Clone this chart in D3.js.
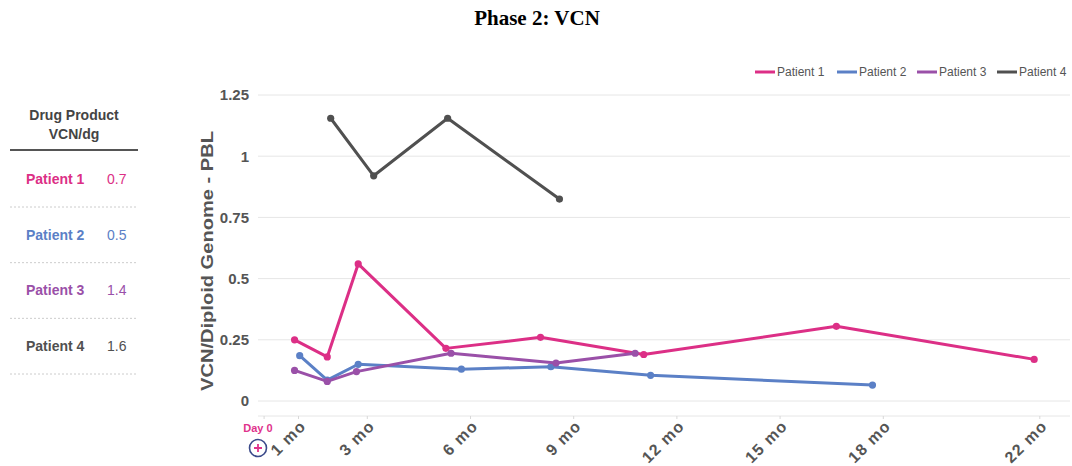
<!DOCTYPE html>
<html>
<head>
<meta charset="utf-8">
<script src="https://cdn.jsdelivr.net/npm/d3@7"></script>
<style>
  body { margin: 0; background: #fff; }
  svg { display: block; font-family: Arial, "Liberation Sans", sans-serif; }
</style>
</head>
<body>
<svg></svg>
<script>
const patients = ['Patient 1', 'Patient 2', 'Patient 3', 'Patient 4'];
const drugProductVcn = ['0.7', '0.5', '1.4', '1.6'];

// months after infusion / VCN per diploid genome
const p1Months = [0.9, 1.85, 2.75, 5.3, 8.05, 11.05, 16.65, 22.4];
const p1Vcn = [0.25, 0.18, 0.56, 0.215, 0.26, 0.19, 0.305, 0.17];
const p2Months = [1.05, 1.85, 2.75, 5.75, 8.35, 11.25, 17.7];
const p2Vcn = [0.185, 0.085, 0.15, 0.13, 0.14, 0.105, 0.065];
const p3Months = [0.9, 1.85, 2.7, 5.45, 8.5, 10.8];
const p3Vcn = [0.125, 0.08, 0.12, 0.195, 0.155, 0.195];
const p4Months = [1.95, 3.2, 5.35, 8.6];
const p4Vcn = [1.155, 0.92, 1.155, 0.825];

const yTicks = [0, 0.25, 0.5, 0.75, 1, 1.25];
const xTickMonths = [1, 3, 6, 9, 12, 15, 18, 22.55];
const xTickLabels = ['1 mo', '3 mo', '6 mo', '9 mo', '12 mo', '15 mo', '18 mo', '22 mo'];

const colors = ['#dc2f86', '#5b80c6', '#9a50a8', '#505050'];

const series = [
    { months: p1Months, vcn: p1Vcn },
    { months: p2Months, vcn: p2Vcn },
    { months: p3Months, vcn: p3Vcn },
    { months: p4Months, vcn: p4Vcn }
].map((s, i) => ({
    name: patients[i],
    color: colors[i],
    values: s.months.map((m, j) => ({ m: m, v: s.vcn[j] }))
}));

const svgWidth = 1072;
const svgHeight = 466;
const plotLeft = 258;
const plotRight = 1070;

const svg = d3.select('svg')
    .attr('width', svgWidth)
    .attr('height', svgHeight);

// title
svg.append('text')
    .attr('x', 537)
    .attr('y', 25)
    .attr('text-anchor', 'middle')
    .attr('font-family', '"Liberation Serif", "Times New Roman", serif')
    .attr('font-weight', 'bold')
    .attr('font-size', '21px')
    .attr('fill', '#000')
    .text('Phase 2: VCN');

const xScale = d3.scaleLinear()
    .domain([0, 23])
    .range([263.6, 263.6 + 34.4 * 23]);

const yScale = d3.scaleLinear()
    .domain([0, 1.25])
    .range([401, 95]);

// gridlines
svg.append('g')
    .selectAll('line')
    .data(yTicks)
    .enter().append('line')
    .attr('x1', plotLeft)
    .attr('x2', plotRight)
    .attr('y1', d => yScale(d))
    .attr('y2', d => yScale(d))
    .attr('stroke', '#e6e6e6')
    .attr('stroke-width', 1);

// y axis
const yAxis = svg.append('g')
    .attr('transform', `translate(${plotLeft}, 0)`)
    .call(d3.axisLeft(yScale).tickValues(yTicks).tickSize(0).tickPadding(9)
        .tickFormat(d => d3.format('~g')(d)));
yAxis.select('.domain').remove();
yAxis.selectAll('text')
    .attr('font-family', 'Arial, "Liberation Sans", sans-serif')
    .attr('font-size', '15px')
    .attr('font-weight', 'bold')
    .attr('fill', '#555');

svg.append('text')
    .attr('transform', 'translate(213, 261) rotate(-90)')
    .attr('text-anchor', 'middle')
    .attr('font-size', '16px')
    .attr('font-weight', 'bold')
    .attr('fill', '#555')
    .attr('textLength', 260)
    .attr('lengthAdjust', 'spacingAndGlyphs')
    .text('VCN/Diploid Genome - PBL');

// x axis
const xAxisY = 416;
svg.append('line')
    .attr('x1', plotLeft)
    .attr('x2', plotRight)
    .attr('y1', xAxisY)
    .attr('y2', xAxisY)
    .attr('stroke', '#e6e6e6');

const xAxis = svg.append('g')
    .attr('transform', `translate(0, ${xAxisY})`)
    .call(d3.axisBottom(xScale).tickValues([0].concat(xTickMonths)).tickSize(3)
        .tickFormat(() => ''));
xAxis.select('.domain').remove();
xAxis.selectAll('line').attr('stroke', '#d8d8d8');

svg.append('g')
    .selectAll('text')
    .data(xTickMonths)
    .enter().append('text')
    .attr('transform', d => `translate(${xScale(d) + 9}, 427) rotate(-45)`)
    .attr('text-anchor', 'end')
    .attr('font-size', '16px')
    .attr('font-weight', 'bold')
    .attr('letter-spacing', '1.2px')
    .attr('fill', '#555')
    .text((d, i) => xTickLabels[i]);

// Day 0 marker
svg.append('text')
    .attr('x', 258)
    .attr('y', 432)
    .attr('text-anchor', 'middle')
    .attr('font-size', '11px')
    .attr('font-weight', 'bold')
    .attr('fill', '#e0338c')
    .text('Day 0');
const day0 = svg.append('g').attr('transform', 'translate(258, 448)');
day0.append('circle')
    .attr('r', 8.5)
    .attr('fill', '#fff')
    .attr('stroke', '#3b4a8a')
    .attr('stroke-width', 1.6);
day0.append('path')
    .attr('d', 'M-4,0H4M0,-4V4')
    .attr('stroke', '#e0338c')
    .attr('stroke-width', 1.8);

// lines
const line = d3.line()
    .x(d => xScale(d.m))
    .y(d => yScale(d.v));

const lineG = svg.append('g');
series.forEach(s => {
    lineG.append('path')
        .datum(s.values)
        .attr('fill', 'none')
        .attr('stroke', s.color)
        .attr('stroke-width', 3)
        .attr('stroke-linejoin', 'round')
        .attr('d', line);
    lineG.selectAll(null)
        .data(s.values)
        .enter().append('circle')
        .attr('cx', d => xScale(d.m))
        .attr('cy', d => yScale(d.v))
        .attr('r', 3.6)
        .attr('fill', s.color);
});

// legend
const legendX = [755, 837, 917, 997];
const legend = svg.append('g');
series.forEach((s, i) => {
    const g = legend.append('g').attr('transform', `translate(${legendX[i]}, 72)`);
    g.append('line')
        .attr('x1', 0).attr('x2', 20)
        .attr('stroke', s.color)
        .attr('stroke-width', 3);
    g.append('text')
        .attr('x', 22)
        .attr('y', 4)
        .attr('font-size', '12px')
        .attr('fill', '#555')
        .text(s.name);
});

// drug product table
const table = svg.append('g');
table.append('text')
    .attr('x', 74).attr('y', 120)
    .attr('text-anchor', 'middle')
    .attr('font-size', '14px')
    .attr('font-weight', 'bold')
    .attr('fill', '#444')
    .text('Drug Product');
table.append('text')
    .attr('x', 74).attr('y', 139)
    .attr('text-anchor', 'middle')
    .attr('font-size', '14px')
    .attr('font-weight', 'bold')
    .attr('fill', '#444')
    .text('VCN/dg');
table.append('line')
    .attr('x1', 10).attr('x2', 138)
    .attr('y1', 150).attr('y2', 150)
    .attr('stroke', '#555')
    .attr('stroke-width', 2);

const rowY = d3.scalePoint()
    .domain(patients)
    .range([179, 346]);

patients.forEach((p, i) => {
    const y = rowY(p);
    table.append('text')
        .attr('x', 26).attr('y', y + 5)
        .attr('font-size', '14px')
        .attr('font-weight', 'bold')
        .attr('fill', colors[i])
        .text(p);
    table.append('text')
        .attr('x', 107).attr('y', y + 5)
        .attr('font-size', '14px')
        .attr('fill', colors[i])
        .text(drugProductVcn[i]);
    table.append('line')
        .attr('x1', 10).attr('x2', 138)
        .attr('y1', y + 28).attr('y2', y + 28)
        .attr('stroke', '#ccc')
        .attr('stroke-dasharray', '2,2');
});
</script>
</body>
</html>
